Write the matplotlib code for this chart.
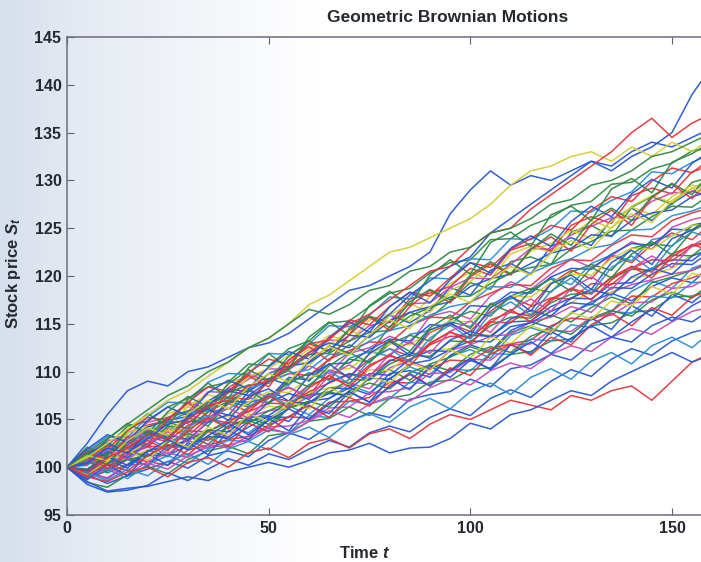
import numpy as np
import matplotlib
matplotlib.use('Agg')
import matplotlib.pyplot as plt

plt.rcParams['font.family'] = ['Liberation Sans', 'DejaVu Sans']
plt.rcParams['font.weight'] = 'bold'
plt.rcParams['mathtext.fontset'] = 'custom'
plt.rcParams['mathtext.it'] = 'Liberation Sans:bold:italic'
plt.rcParams['mathtext.rm'] = 'Liberation Sans:bold'

# time grid (every 5 steps) and paths
times = np.arange(0, 161, 5)

path01 = [100, 102.5, 105.5, 108, 109, 108.5, 110, 110.5, 111.5, 112.5, 113, 114, 115.5, 117, 118.5, 119, 120, 121, 122.5, 126.5, 129, 131, 129.5, 130.5, 130, 131, 132, 131.5, 133, 134, 133.5, 134.5, 135.5]
path02 = [100, 100.5, 102, 101.5, 103, 104.5, 105, 106.5, 108, 107.5, 109, 110.5, 112, 113, 112.5, 114.5, 116, 118, 119.5, 121, 122, 124.5, 126, 127.5, 129, 130.5, 132, 131, 132.5, 133.5, 135, 139, 142]
path03 = [100, 101, 102.5, 104, 105.5, 107, 108, 109.5, 111, 112.5, 113.5, 115, 117, 118, 119.5, 121, 122.5, 123, 124, 125, 126, 127.5, 129.5, 131, 131.5, 132.5, 133, 132, 133.5, 132.5, 134, 133, 134.5]
path04 = [100, 99.5, 101, 102, 103.5, 103, 105, 106.5, 107, 108.5, 109, 110.5, 112, 113.5, 115, 116, 117.5, 119, 120.5, 121, 123, 124.5, 125, 127, 128.5, 130, 131.5, 133, 135, 136.5, 134.5, 136, 137]
path05 = [100, 99, 98.5, 99.5, 100, 99, 100.5, 101, 100, 101.5, 102, 101, 102.5, 103, 102, 103.5, 104, 103, 104.5, 105.5, 105, 106, 107, 106.5, 106, 107.5, 107, 108, 108.5, 107, 109, 111, 112]
path06 = [100, 98.5, 97.5, 97.8, 98, 98.5, 99, 98.6, 99.5, 100, 100.5, 100, 100.7, 101.5, 101.8, 102.5, 101.5, 102, 102.1, 103, 104.6, 104, 105.5, 106, 107, 108, 107.5, 109, 110, 111, 112, 111, 111.8]
path07 = [100, 101.5, 103, 104.5, 106, 107.5, 108.5, 110, 111, 112.5, 113.5, 115, 116.5, 116, 117, 118.5, 119, 120.5, 121, 122.5, 123, 124.5, 125, 126, 127.5, 128, 129.5, 130, 131, 132.5, 133, 134, 135]
path08 = [100, 101.2, 100.4, 102.3, 103.8, 103.1, 105.6, 106.2, 105.4, 107.9, 109.3, 108.6, 111.0, 112.7, 111.9, 113.8, 115.9, 115.1, 116.4, 118.8, 118.0, 120.6, 121.3, 120.2, 123.1, 124.0, 123.2, 125.9, 127.1, 125.8, 127.6, 128.9, 128.2]
path09 = [100, 100.8, 102.4, 101.6, 102.9, 104.7, 104.0, 106.8, 107.3, 106.5, 109.2, 110.1, 109.0, 111.3, 112.8, 111.9, 114.7, 116.2, 115.6, 117.4, 119.3, 118.6, 121.5, 122.0, 121.2, 124.6, 125.3, 124.1, 127.2, 128.3, 127.5, 129.8, 130.4]
path10 = [100, 100.9, 100.2, 102.6, 102.1, 104.0, 103.3, 105.1, 106.7, 105.8, 107.6, 108.3, 107.4, 110.2, 109.5, 111.3, 112.4, 111.6, 114.1, 115.0, 114.2, 116.3, 117.8, 116.9, 119.2, 120.6, 119.7, 122.1, 121.4, 123.3, 124.5, 123.8, 125.6]
path11 = [100, 99.3, 100.4, 101.2, 100.1, 101.9, 102.8, 102.0, 104.3, 103.6, 105.1, 106.4, 105.5, 107.2, 108.6, 107.8, 109.3, 110.5, 109.7, 111.6, 112.3, 111.4, 113.8, 114.6, 113.9, 116.2, 117.1, 116.3, 118.4, 119.5, 118.7, 120.8, 121.6]
path12 = [100, 101.3, 101.0, 102.5, 103.9, 103.2, 105.4, 105.0, 106.6, 108.1, 107.3, 109.0, 110.6, 109.8, 111.9, 112.5, 113.7, 112.9, 115.8, 116.3, 115.5, 117.9, 119.4, 118.6, 120.2, 121.8, 120.9, 122.1, 123.6, 122.8, 125.1, 125.9, 126.4]
path13 = [100, 100.6, 101.9, 103.4, 102.8, 105.6, 106.3, 105.7, 108.9, 109.4, 108.8, 110.9, 112.3, 113.8, 113.1, 115.4, 116.0, 115.3, 117.9, 119.2, 120.4, 119.6, 122.3, 123.1, 122.5, 124.3, 125.8, 125.0, 127.3, 128.4, 127.7, 129.2, 130.1]
path14 = [100, 98.9, 99.6, 100.8, 100.2, 102.3, 102.0, 103.7, 102.9, 104.2, 105.3, 104.8, 106.9, 107.2, 108.3, 107.6, 109.8, 110.1, 109.4, 111.7, 112.8, 112.1, 114.3, 115.2, 114.6, 116.1, 117.3, 118.2, 117.4, 118.9, 119.8, 119.3, 121.2]
path15 = [100, 100.7, 99.4, 100.3, 101.8, 101.1, 103.2, 102.4, 104.3, 104.9, 104.1, 106.2, 106.8, 107.9, 107.3, 109.4, 110.2, 109.1, 110.8, 111.5, 112.6, 111.9, 114.1, 114.8, 115.9, 115.2, 116.7, 117.8, 117.1, 119.3, 119.9, 120.6, 121.4]
path16 = [100, 101.8, 101.3, 103.6, 104.4, 104.9, 106.8, 106.1, 108.3, 109.7, 109.0, 111.2, 112.9, 112.2, 114.3, 115.8, 115.1, 117.6, 118.2, 118.9, 120.8, 120.1, 122.7, 123.4, 122.6, 125.3, 126.2, 125.5, 128.4, 129.2, 128.6, 130.9, 131.6]
path17 = [100, 100.2, 101.7, 101.1, 102.9, 104.2, 103.6, 105.8, 106.1, 107.3, 106.6, 108.7, 109.9, 109.2, 111.4, 112.1, 111.6, 113.9, 114.3, 115.2, 114.7, 117.1, 117.6, 118.4, 119.8, 119.1, 121.3, 122.2, 121.6, 123.8, 124.2, 125.3, 125.7]
path18 = [100, 99.2, 98.3, 99.1, 99.8, 100.6, 99.9, 101.2, 101.7, 101.1, 102.8, 103.6, 102.9, 104.3, 104.8, 105.7, 105.2, 107.1, 107.6, 107.9, 109.2, 108.4, 110.3, 110.7, 111.8, 111.2, 112.9, 113.6, 113.1, 114.8, 115.7, 115.2, 116.6]
path19 = [100, 100.8, 99.7, 101.3, 102.1, 101.4, 102.9, 103.8, 103.2, 105.3, 105.9, 106.2, 107.4, 107.9, 108.8, 108.2, 110.4, 111.1, 110.3, 112.2, 112.8, 113.7, 113.9, 115.2, 115.7, 116.8, 116.2, 118.3, 119.1, 119.6, 120.2, 120.6, 121.7]
path20 = [100, 101.4, 102.2, 104.3, 104.8, 106.3, 107.2, 108.4, 108.9, 110.8, 110.6, 112.4, 113.2, 115.1, 115.3, 116.8, 118.2, 118.7, 120.3, 121.4, 121.7, 123.8, 123.9, 125.3, 126.1, 127.4, 127.8, 129.6, 129.8, 131.2, 131.8, 133.1, 133.4]
path21 = [100, 99.4, 100.7, 100.9, 101.8, 102.2, 103.4, 103.6, 104.9, 105.3, 106.4, 106.1, 107.8, 108.3, 108.7, 110.2, 110.1, 111.8, 112.2, 112.4, 113.9, 113.8, 115.3, 116.1, 116.3, 117.2, 118.4, 118.2, 119.8, 120.1, 120.8, 122.2, 122.4]
path22 = [100, 98.8, 99.7, 100.9, 100.6, 100.2, 101.8, 102.3, 102.9, 103.2, 104.4, 105.3, 105.1, 106.8, 106.9, 107.3, 108.9, 108.8, 110.3, 111.2, 111.1, 112.4, 112.9, 113.3, 114.8, 115.6, 115.4, 116.3, 117.9, 117.8, 119.2, 119.8, 120.7]
path23 = [100, 101.2, 100.3, 101.8, 103.4, 103.1, 104.8, 104.7, 106.9, 106.8, 107.2, 109.4, 109.1, 110.8, 110.9, 112.3, 113.4, 113.2, 114.9, 114.8, 116.9, 116.8, 118.3, 118.2, 119.9, 120.8, 120.7, 122.3, 123.4, 123.2, 124.9, 124.8, 126.3]
path24 = [100, 101.7, 103.2, 103.1, 105.3, 106.8, 106.7, 108.9, 109.8, 109.7, 111.9, 111.8, 112.9, 114.8, 114.7, 115.9, 117.8, 117.6, 119.8, 119.7, 121.8, 121.7, 123.9, 123.8, 124.9, 126.8, 126.7, 127.9, 128.8, 130.9, 130.7, 131.9, 132.8]
path25 = [100, 98.4, 97.9, 99.2, 100.1, 99.3, 100.8, 101.7, 102.2, 101.4, 103.3, 103.6, 104.8, 105.1, 106.3, 105.4, 107.2, 107.6, 108.9, 109.1, 110.2, 110.4, 111.8, 112.1, 113.2, 113.4, 114.8, 115.1, 116.2, 116.4, 117.8, 117.9, 118.6]
path26 = [100, 101.3, 102.8, 102.9, 104.7, 105.2, 105.8, 107.9, 107.8, 109.2, 110.3, 110.2, 111.7, 113.3, 113.2, 114.8, 115.3, 117.1, 117.2, 118.8, 119.8, 119.7, 121.2, 122.9, 122.8, 124.3, 125.2, 126.1, 126.2, 127.8, 128.7, 128.8, 130.3]
path27 = [100, 100.3, 102.2, 102.1, 103.3, 104.8, 104.6, 106.2, 107.3, 107.1, 108.9, 109.8, 109.6, 111.3, 112.2, 113.1, 113.0, 114.8, 115.7, 115.6, 117.3, 118.2, 119.1, 119.0, 120.8, 121.7, 121.6, 123.2, 124.3, 124.1, 125.8, 126.6, 127.2]
path28 = [100, 99.6, 98.8, 100.2, 101.3, 101.2, 102.3, 103.2, 103.1, 104.8, 105.3, 105.2, 106.8, 107.7, 107.6, 109.3, 109.2, 110.8, 111.2, 112.3, 113.2, 113.1, 114.7, 115.1, 116.3, 117.2, 117.0, 118.8, 118.7, 120.2, 121.3, 121.2, 122.7]
path29 = [100, 101.4, 101.1, 103.6, 104.3, 103.8, 106.4, 107.6, 106.9, 109.5, 110.3, 111.7, 110.6, 112.8, 114.3, 113.5, 115.9, 117.1, 116.2, 118.5, 119.4, 121.2, 120.3, 122.6, 123.4, 124.8, 123.9, 125.7, 127.2, 126.4, 128.3, 129.5, 129.1]
path30 = [100, 99.8, 101.3, 102.9, 102.2, 104.3, 104.1, 105.8, 106.9, 106.3, 107.2, 108.9, 109.8, 109.1, 111.3, 111.0, 112.9, 113.8, 113.2, 115.4, 116.3, 115.8, 117.9, 118.7, 118.3, 120.4, 121.2, 120.6, 122.9, 123.4, 123.1, 125.3, 125.8]
path31 = [100, 98.9, 99.8, 98.8, 100.3, 101.2, 100.4, 101.9, 102.8, 102.7, 103.9, 103.6, 105.4, 105.2, 106.9, 106.6, 107.2, 108.9, 108.7, 110.3, 110.1, 111.9, 111.8, 113.4, 113.2, 114.9, 114.6, 116.3, 116.1, 117.9, 117.7, 119.3, 119.4]
path32 = [100, 101.6, 101.9, 103.8, 105.2, 104.9, 106.8, 108.4, 107.9, 109.9, 111.3, 110.8, 112.9, 113.3, 115.4, 114.9, 116.8, 118.3, 117.9, 119.8, 121.4, 120.9, 122.8, 123.9, 125.3, 124.8, 126.9, 128.3, 127.8, 129.9, 131.3, 130.8, 132.4]
path33 = [100, 100.9, 101.3, 102.8, 104.2, 104.9, 105.3, 106.9, 108.2, 107.9, 109.8, 110.6, 110.9, 112.3, 113.8, 113.6, 115.3, 116.2, 116.8, 117.3, 118.9, 119.7, 120.2, 121.3, 122.4, 122.9, 124.3, 124.2, 125.8, 126.6, 126.9, 128.3, 128.9]
path34 = [100, 99.3, 98.9, 100.2, 100.4, 99.8, 101.2, 102.1, 102.3, 102.9, 104.2, 104.3, 104.9, 106.2, 106.3, 107.8, 107.9, 108.3, 109.8, 109.9, 111.3, 111.2, 112.8, 112.9, 114.3, 114.2, 115.7, 115.9, 117.2, 117.3, 118.7, 118.9, 120.1]
path35 = [100, 101.2, 101.4, 102.8, 103.3, 105.2, 105.9, 106.3, 107.8, 108.6, 108.8, 110.3, 111.8, 111.9, 113.2, 114.1, 114.3, 115.8, 116.7, 117.8, 117.9, 119.2, 120.3, 120.9, 121.2, 122.8, 123.6, 124.7, 124.8, 126.2, 127.3, 127.2, 128.7]
path36 = [100, 100.7, 100.9, 101.2, 102.9, 103.8, 103.9, 105.2, 105.3, 106.8, 107.9, 107.8, 109.3, 110.2, 110.3, 111.8, 112.9, 112.8, 114.2, 115.3, 115.2, 116.8, 117.9, 117.8, 119.3, 120.2, 120.1, 121.8, 122.9, 122.8, 124.2, 125.3, 125.4]
path37 = [100, 99.4, 100.8, 99.9, 101.7, 102.2, 102.8, 103.9, 103.7, 105.2, 105.4, 106.8, 106.7, 108.3, 108.2, 109.8, 109.6, 111.3, 112.2, 112.1, 113.8, 113.7, 115.2, 115.3, 116.8, 117.7, 117.6, 119.2, 119.3, 120.8, 121.7, 121.6, 123.2]
path38 = [100, 100.6, 99.8, 101.3, 102.2, 102.1, 103.8, 103.7, 104.9, 105.8, 106.7, 106.6, 107.9, 108.8, 109.7, 109.6, 111.2, 111.1, 112.8, 113.7, 113.6, 115.2, 115.1, 116.8, 117.7, 117.6, 119.2, 119.1, 120.8, 121.7, 121.6, 123.1, 123.6]
path39 = [100, 101.1, 101.8, 102.9, 103.2, 104.8, 105.7, 105.9, 107.3, 108.2, 108.9, 109.8, 110.2, 111.8, 111.9, 113.2, 114.3, 114.8, 115.9, 116.8, 117.2, 118.9, 118.8, 120.3, 121.2, 121.8, 122.9, 123.3, 124.8, 124.9, 126.3, 126.8, 127.6]
path40 = [100, 99.3, 100.2, 100.8, 101.2, 102.3, 102.2, 103.8, 104.7, 104.6, 105.9, 106.8, 107.6, 107.8, 109.2, 109.1, 110.8, 111.7, 111.6, 113.2, 113.1, 114.8, 115.7, 115.6, 117.2, 118.1, 118.2, 119.8, 120.7, 120.6, 122.2, 122.1, 123.8]
path41 = [100, 98.2, 97.4, 97.6, 98.1, 99.4, 98.6, 99.8, 100.9, 100.2, 101.4, 100.8, 101.9, 102.8, 102.1, 103.6, 104.3, 103.7, 105.2, 106.1, 105.4, 107.2, 108.1, 107.3, 109.0, 110.2, 109.5, 111.3, 112.4, 111.7, 113.2, 114.1, 114.6]
path42 = [100, 99.1, 99.9, 99.2, 100.6, 101.5, 101.0, 102.4, 102.0, 103.3, 104.1, 103.5, 104.8, 105.9, 105.2, 106.6, 107.4, 106.9, 108.3, 109.2, 108.6, 110.1, 110.9, 110.3, 111.8, 112.7, 112.1, 113.6, 114.5, 113.9, 115.2, 116.3, 116.8]
path43 = [100, 101.0, 100.6, 101.9, 103.1, 102.7, 104.4, 105.1, 104.6, 106.3, 107.4, 106.9, 108.6, 109.3, 108.8, 110.7, 111.6, 111.2, 113.0, 114.1, 113.5, 115.4, 116.2, 115.8, 117.6, 118.7, 118.1, 119.9, 121.0, 120.4, 122.3, 123.2, 123.7]
path44 = [100, 100.4, 101.6, 101.0, 102.5, 103.4, 102.9, 104.7, 105.5, 104.9, 106.8, 107.7, 107.1, 108.9, 109.8, 109.2, 111.1, 112.0, 111.4, 113.3, 114.2, 113.6, 115.5, 116.4, 115.8, 117.7, 118.6, 118.0, 119.9, 120.8, 120.2, 122.1, 122.9]
path45 = [100, 99.6, 100.9, 101.7, 101.1, 102.6, 103.5, 102.8, 104.3, 105.1, 104.5, 106.2, 106.9, 106.3, 108.0, 108.8, 108.2, 109.9, 110.7, 110.1, 111.8, 112.6, 112.0, 113.7, 114.5, 113.9, 115.6, 116.4, 115.8, 117.5, 118.3, 117.7, 119.4]
path46 = [100, 102.1, 101.2, 103.9, 105.6, 104.3, 107.1, 108.8, 107.2, 110.4, 111.9, 110.3, 113.6, 115.2, 113.8, 116.9, 118.4, 116.9, 120.1, 121.7, 120.2, 123.5, 124.6, 123.1, 126.4, 127.3, 125.8, 129.1, 130.2, 128.7, 131.9, 132.8, 134.1]
path47 = [100, 98.7, 100.3, 99.1, 101.4, 100.2, 102.6, 101.3, 103.8, 102.9, 105.1, 103.8, 106.4, 105.6, 107.9, 106.8, 109.3, 108.1, 110.6, 109.4, 111.2, 110.3, 112.8, 111.9, 114.2, 113.1, 115.6, 114.4, 116.9, 115.8, 118.1, 117.2, 118.9]
path48 = [100, 101.6, 100.8, 103.2, 102.4, 105.1, 106.7, 105.3, 107.9, 109.6, 108.4, 111.2, 112.6, 111.1, 113.9, 115.7, 114.3, 116.8, 118.5, 117.2, 119.9, 121.3, 120.1, 122.8, 124.1, 122.6, 125.4, 126.9, 125.3, 128.2, 129.6, 128.1, 130.4]
path49 = [100, 100.9, 99.6, 101.8, 103.1, 101.9, 104.2, 105.4, 104.1, 106.3, 107.7, 106.4, 108.6, 110.1, 108.7, 111.2, 112.4, 111.0, 113.5, 114.9, 113.4, 116.1, 117.3, 115.9, 118.4, 119.8, 118.2, 120.9, 122.1, 120.6, 123.2, 124.6, 123.9]
path50 = [100, 101.3, 102.6, 101.4, 103.7, 102.8, 105.3, 106.1, 104.9, 107.4, 108.2, 106.9, 109.6, 110.8, 109.3, 111.9, 113.2, 111.7, 114.4, 115.1, 113.8, 116.7, 117.9, 116.3, 119.2, 120.1, 118.6, 121.4, 122.7, 121.2, 123.9, 124.8, 126.1]
path51 = [100, 99.2, 100.6, 101.8, 100.7, 102.9, 102.1, 104.2, 103.3, 105.6, 104.8, 106.9, 106.1, 108.3, 107.4, 109.5, 108.8, 110.9, 110.1, 112.3, 111.4, 113.6, 112.9, 114.8, 114.1, 116.2, 115.5, 117.4, 116.8, 118.9, 118.1, 120.3, 119.7]
path52 = [100, 101.4, 100.2, 102.7, 104.1, 102.9, 105.2, 104.3, 106.8, 108.1, 106.7, 109.2, 108.4, 110.6, 112.0, 110.9, 113.3, 112.1, 114.6, 115.9, 114.5, 117.1, 116.2, 118.5, 119.7, 118.4, 120.9, 119.8, 122.3, 123.6, 122.2, 124.7, 125.9]
path53 = [100, 99.1, 100.4, 99.6, 101.2, 102.4, 101.3, 103.1, 102.2, 104.6, 103.7, 105.3, 106.5, 105.2, 107.3, 106.4, 108.6, 109.8, 108.5, 110.4, 109.6, 111.8, 112.9, 111.7, 113.6, 112.8, 114.9, 116.1, 114.8, 116.7, 115.9, 117.8, 118.6]
path54 = [100, 101.9, 103.4, 102.6, 104.9, 106.3, 105.4, 107.8, 109.1, 108.2, 110.5, 112.1, 111.3, 113.6, 115.2, 114.1, 116.8, 118.3, 117.2, 119.6, 121.4, 120.3, 122.9, 124.2, 123.1, 125.7, 127.3, 126.2, 128.6, 130.1, 129.2, 131.8, 133.2]
path55 = [100, 100.6, 101.9, 100.8, 102.4, 103.7, 102.6, 104.9, 106.2, 105.1, 107.3, 108.4, 107.2, 109.6, 110.7, 109.5, 111.8, 113.1, 111.9, 114.2, 115.3, 114.1, 116.4, 117.6, 116.3, 118.7, 119.9, 118.6, 120.8, 122.1, 120.9, 123.2, 124.3]
path56 = [100, 99.4, 98.6, 99.8, 99.1, 100.6, 101.4, 100.3, 101.9, 102.7, 101.8, 103.4, 104.2, 103.1, 104.8, 105.6, 104.7, 106.3, 107.2, 106.1, 107.9, 108.8, 107.6, 109.4, 110.3, 109.2, 111.1, 112.0, 110.8, 112.7, 113.6, 112.5, 114.3]
path57 = [100, 100.8, 102.9, 104.6, 103.5, 105.8, 107.4, 106.3, 108.7, 110.2, 109.1, 111.6, 113.2, 112.0, 114.5, 115.8, 114.6, 117.3, 118.6, 117.5, 120.1, 121.5, 120.2, 122.8, 124.4, 123.2, 125.9, 127.1, 125.8, 128.3, 129.7, 128.5, 131.2]
path58 = [100, 101.1, 99.9, 101.6, 102.8, 101.7, 103.9, 105.2, 104.0, 106.1, 107.5, 106.2, 108.3, 109.6, 108.4, 110.5, 111.8, 110.6, 112.9, 114.2, 112.9, 115.1, 116.5, 115.2, 117.4, 118.7, 117.5, 119.6, 121.0, 119.8, 122.0, 123.3, 122.6]
path59 = [100, 99.7, 101.1, 100.2, 101.6, 102.9, 101.8, 103.3, 104.6, 103.4, 104.9, 106.1, 105.0, 106.6, 107.9, 106.8, 108.4, 109.7, 108.5, 110.1, 111.4, 110.2, 111.8, 113.1, 111.9, 113.5, 114.8, 113.6, 115.2, 116.5, 115.3, 116.9, 118.0]
path60 = [100, 101.2, 100.7, 102.8, 104.1, 103.3, 105.6, 107.0, 106.1, 108.4, 109.8, 108.9, 111.3, 112.6, 111.7, 113.9, 115.4, 114.5, 116.8, 118.1, 117.2, 119.6, 121.0, 120.1, 122.4, 123.7, 122.8, 125.1, 126.5, 125.6, 127.9, 129.2, 128.4]

paths = [path01, path02, path03, path04, path05, path06, path07, path08, path09, path10,
         path11, path12, path13, path14, path15, path16, path17, path18, path19, path20,
         path21, path22, path23, path24, path25, path26, path27, path28, path29, path30,
         path31, path32, path33, path34, path35, path36, path37, path38, path39, path40,
         path41, path42, path43, path44, path45, path46, path47, path48, path49, path50,
         path51, path52, path53, path54, path55, path56, path57, path58, path59, path60]

# scanned-looking MATLAB colours
B, G, R, C, M, Y = '#2557d6', '#2f8a45', '#e4353c', '#2b8fd4', '#c64cb8', '#d4cf2e'
colors = [B, B, Y, R, R, B, G, B, G, R, C, M, Y, B, G, R, C, B, M, G,
          Y, R, B, C, G, M, R, B, Y, G, C, R, B, M, G, Y, B, R, C, G,
          B, M, R, B, G, G, B, R, C, B, Y, G, R, B, M, C, G, R, B, Y]

fig = plt.figure(figsize=(7.01, 5.62), dpi=100)

# bluish scan tint on the left of the page
bg = fig.add_axes([0, 0, 1, 1], zorder=-1)
grad = np.linspace(0, 1, 256)
bg.imshow(grad[None, :], aspect='auto', extent=[0, 1, 0, 1],
          cmap=matplotlib.colors.LinearSegmentedColormap.from_list(
              'scan', [(0.0, '#d6dfec'), (0.12, '#e6ebf3'), (0.45, '#ffffff'), (1.0, '#ffffff')]))
bg.axis('off')

ax = fig.add_axes([67 / 701, 47 / 562, 190 * 4.033 / 701, 478 / 562])
ax.set_facecolor('none')
# draw the bulk first, the outlying paths on top
order = list(range(7, len(paths))) + list(range(7))
for i in order:
	ax.plot(times, paths[i], color=colors[i], lw=1.1, alpha=0.95)

ax.set_xlim(0, 190)
ax.set_ylim(95, 145)
ax.set_xticks([0, 50, 100, 150])
ax.set_yticks(range(95, 146, 5))
ax.tick_params(direction='in', length=5, top=True, right=True, colors='#5e6270',
               labelcolor='#25292f', labelsize=11.5, pad=4)
for s in ax.spines.values():
	s.set_color('#6e6a80')
	s.set_linewidth(1.1)

tc = '#25292f'
fig.text(448 / 701, 1 - 17.5 / 562, 'Geometric Brownian Motions', ha='center', va='center',
         fontsize=12.5, fontweight='bold', color=tc)
fig.text(365 / 701, 1 - 553 / 562, r'Time $t$', ha='center', va='center',
         fontsize=12, fontweight='bold', color=tc)
fig.text(14 / 701, 1 - 273 / 562, r'Stock price $S_t$', ha='center', va='center',
         rotation=90, fontsize=12, fontweight='bold', color=tc)

plt.savefig('out.png', dpi=100)
